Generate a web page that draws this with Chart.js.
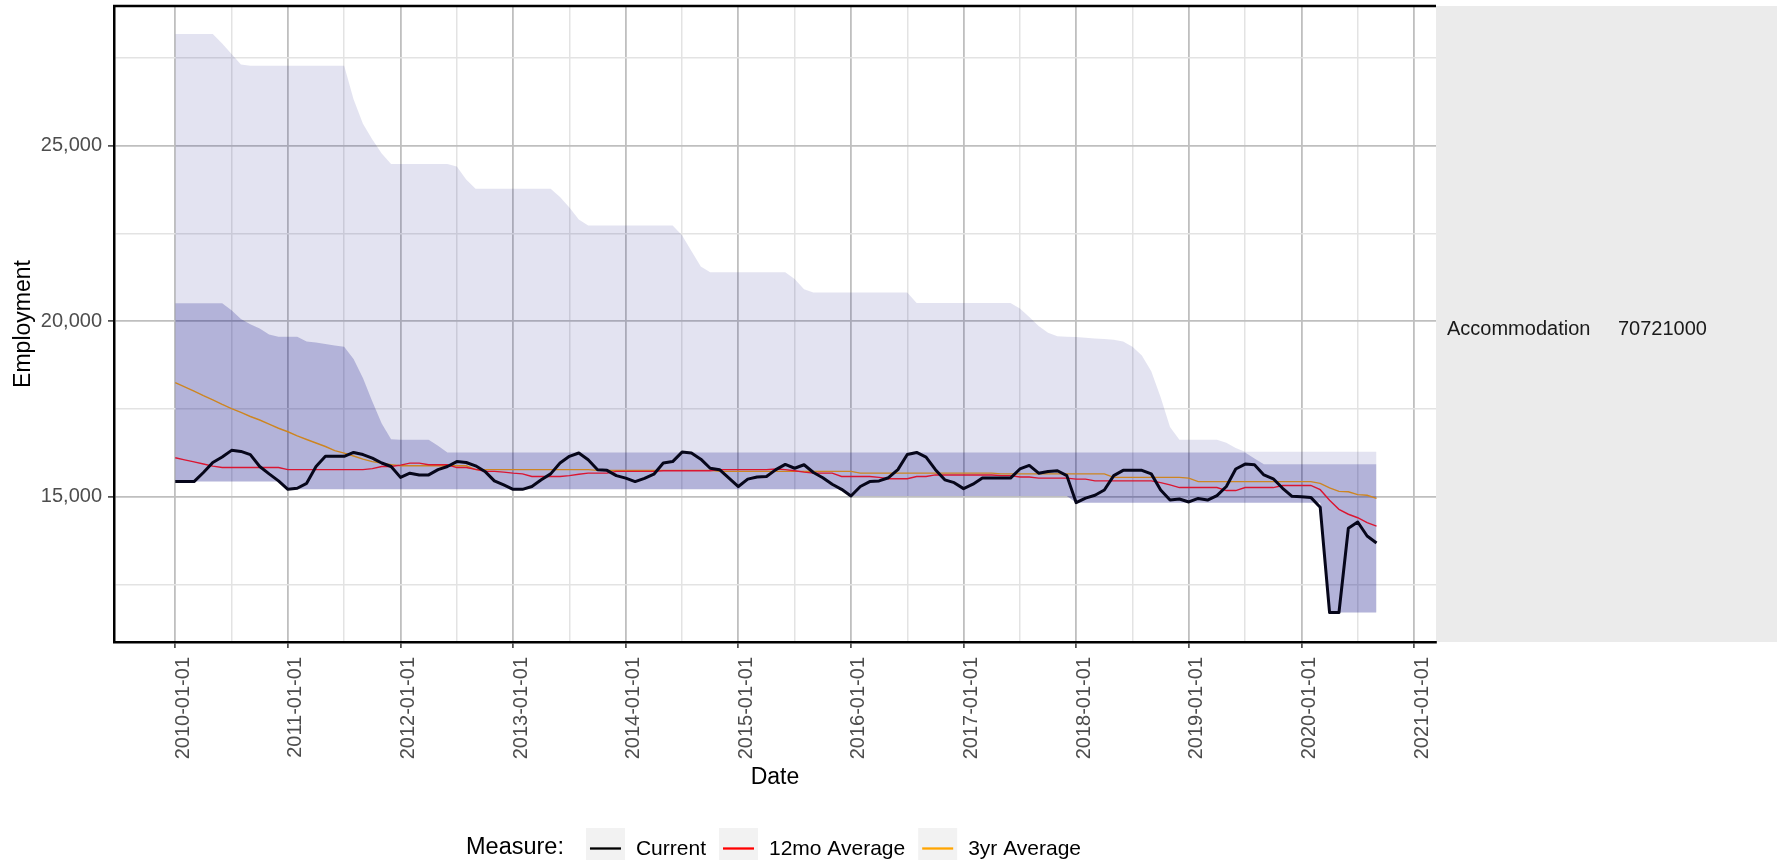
<!DOCTYPE html>
<html>
<head>
<meta charset="utf-8">
<script src="https://cdn.jsdelivr.net/npm/chart.js@4/dist/chart.umd.min.js"></script>
<style>
  html, body { margin: 0; padding: 0; background: #fff; }
  #wrap { width: 1777px; height: 860px; }
</style>
</head>
<body>
<div id="wrap"><canvas id="chart" width="1777" height="860"></canvas></div>
<script>
// monthly series, Jan 2010 .. Sep 2020 (one row per year)
const firstYear = 2010;

const current = [
  15430, 15430, 15430, 15690, 15975, 16130, 16320, 16290, 16200, 15860, 15650, 15450,
  15210, 15240, 15380, 15860, 16150, 16150, 16150, 16260, 16200, 16100, 15960, 15860,
  15550, 15670, 15620, 15620, 15770, 15860, 16000, 15975, 15880, 15720, 15450, 15335,
  15210, 15210, 15290, 15480, 15650, 15960, 16150, 16245, 16050, 15770, 15750, 15600,
  15530, 15430, 15520, 15640, 15960, 16000, 16270, 16245, 16070, 15810, 15770, 15530,
  15290, 15500, 15560, 15575, 15770, 15920, 15810, 15910, 15690, 15540, 15355, 15210,
  15020, 15290, 15430, 15450, 15540, 15770, 16200, 16260, 16130, 15770, 15480, 15400,
  15230, 15355, 15530, 15530, 15530, 15530, 15790, 15890, 15670, 15720, 15740, 15600,
  14830, 14960, 15040, 15190, 15600, 15750, 15750, 15750, 15650, 15190, 14905, 14935,
  14850, 14950, 14905, 15030, 15290, 15790, 15930, 15910, 15620, 15510, 15240, 15010,
  15000, 14980, 14700, 11700, 11700, 14100, 14280, 13880, 13680
];

const avg12mo = [
  16110, 16050, 15990, 15930, 15870, 15830, 15830, 15830, 15830, 15830, 15830, 15830,
  15770, 15770, 15770, 15770, 15770, 15770, 15770, 15770, 15770, 15800, 15860, 15860,
  15900, 15955, 15955, 15910, 15910, 15910, 15830, 15830, 15780, 15720, 15720, 15700,
  15670, 15650, 15575, 15575, 15575, 15575, 15600, 15640, 15670, 15670, 15670, 15720,
  15720, 15720, 15720, 15720, 15740, 15740, 15740, 15740, 15740, 15740, 15770, 15770,
  15770, 15770, 15770, 15770, 15790, 15770, 15740, 15700, 15670, 15670, 15670, 15575,
  15575, 15575, 15575, 15550, 15510, 15510, 15510, 15575, 15575, 15620, 15620, 15620,
  15620, 15620, 15620, 15620, 15600, 15600, 15560, 15560, 15530, 15530, 15530, 15530,
  15500, 15500, 15450, 15450, 15450, 15450, 15450, 15450, 15450, 15400, 15335, 15260,
  15260, 15260, 15260, 15260, 15175, 15175, 15260, 15260, 15260, 15260, 15320, 15320,
  15320, 15320, 15200, 14900, 14640, 14500, 14400, 14260, 14160
];

const avg3yr = [
  18250, 18130, 18010, 17880, 17760, 17630, 17510, 17400, 17285, 17185, 17065, 16950,
  16850, 16730, 16630, 16530, 16430, 16310, 16240, 16160, 16070, 16000, 15955, 15915,
  15880, 15880, 15880, 15880, 15880, 15880, 15880, 15880, 15770, 15770, 15770, 15770,
  15770, 15770, 15770, 15770, 15770, 15770, 15770, 15770, 15770, 15750, 15750, 15750,
  15750, 15750, 15750, 15750, 15750, 15750, 15750, 15750, 15750, 15750, 15720, 15720,
  15720, 15720, 15720, 15720, 15720, 15720, 15720, 15720, 15720, 15720, 15720, 15720,
  15720, 15670, 15670, 15670, 15670, 15670, 15670, 15670, 15670, 15670, 15670, 15670,
  15670, 15670, 15670, 15670, 15650, 15650, 15650, 15650, 15650, 15650, 15650, 15650,
  15650, 15650, 15650, 15650, 15550, 15550, 15550, 15550, 15550, 15550, 15550, 15550,
  15530, 15430, 15430, 15430, 15430, 15430, 15430, 15430, 15430, 15430, 15430, 15430,
  15430, 15430, 15380, 15250, 15150, 15140, 15060, 15040, 14950
];

// shaded ranges: long-window high, 3yr-window high, shared low
const rangeHigh = [
  28180, 28180, 28180, 28180, 28180, 27910, 27610, 27310, 27280, 27280, 27280, 27280,
  27280, 27280, 27280, 27280, 27280, 27280, 27280, 26320, 25625, 25180, 24780, 24475,
  24475, 24475, 24475, 24475, 24475, 24475, 24405, 24035, 23770, 23770, 23770, 23770,
  23770, 23770, 23770, 23770, 23770, 23540, 23240, 22895, 22725, 22725, 22725, 22725,
  22725, 22725, 22725, 22725, 22725, 22725, 22450, 22000, 21555, 21395, 21395, 21395,
  21395, 21395, 21395, 21395, 21395, 21395, 21205, 20910, 20820, 20820, 20820, 20820,
  20820, 20820, 20820, 20820, 20820, 20820, 20820, 20520, 20520, 20520, 20520, 20520,
  20520, 20520, 20520, 20520, 20520, 20520, 20365, 20120, 19865, 19670, 19570, 19560,
  19550, 19530, 19510, 19490, 19470, 19420, 19270, 19020, 18575, 17830, 16985, 16620,
  16620, 16620, 16620, 16620, 16540, 16390, 16280, 16280, 16280, 16280, 16280, 16280,
  16280, 16280, 16280, 16280, 16280, 16280, 16280, 16280, 16280
];

const rangeMid = [
  20510, 20510, 20510, 20510, 20510, 20510, 20310, 20065, 19915, 19795, 19620, 19560,
  19560, 19560, 19420, 19390, 19350, 19310, 19270, 18925, 18380, 17710, 17085, 16640,
  16620, 16620, 16620, 16620, 16450, 16260, 16260, 16260, 16260, 16260, 16260, 16260,
  16260, 16260, 16260, 16260, 16260, 16260, 16260, 16260, 16260, 16260, 16260, 16260,
  16260, 16260, 16260, 16260, 16260, 16260, 16260, 16260, 16260, 16260, 16260, 16260,
  16260, 16260, 16260, 16260, 16260, 16260, 16260, 16260, 16260, 16260, 16260, 16260,
  16260, 16260, 16260, 16260, 16260, 16260, 16260, 16260, 16260, 16260, 16260, 16260,
  16260, 16260, 16260, 16260, 16260, 16260, 16260, 16260, 16260, 16260, 16260, 16260,
  16260, 16260, 16260, 16260, 16260, 16260, 16260, 16260, 16260, 16260, 16260, 16260,
  16260, 16260, 16260, 16260, 16260, 16260, 16260, 16090, 15925, 15925, 15925, 15925,
  15925, 15925, 15925, 15925, 15925, 15925, 15925, 15925, 15925
];

const rangeLow = [
  15430, 15430, 15430, 15430, 15430, 15430, 15430, 15430, 15430, 15430, 15430, 15430,
  15210, 15210, 15210, 15210, 15210, 15210, 15210, 15210, 15210, 15210, 15210, 15210,
  15210, 15210, 15210, 15210, 15210, 15210, 15210, 15210, 15210, 15210, 15210, 15210,
  15210, 15210, 15210, 15210, 15210, 15210, 15210, 15210, 15210, 15210, 15210, 15210,
  15210, 15210, 15210, 15210, 15210, 15210, 15210, 15210, 15210, 15210, 15210, 15210,
  15210, 15210, 15210, 15210, 15210, 15210, 15210, 15210, 15210, 15210, 15210, 15210,
  15020, 15020, 15020, 15020, 15020, 15020, 15020, 15020, 15020, 15020, 15020, 15020,
  15020, 15020, 15020, 15020, 15020, 15020, 15020, 15020, 15020, 15020, 15020, 15020,
  14830, 14830, 14830, 14830, 14830, 14830, 14830, 14830, 14830, 14830, 14830, 14830,
  14830, 14830, 14830, 14830, 14830, 14830, 14830, 14830, 14830, 14830, 14830, 14830,
  14830, 14830, 14830, 11700, 11700, 11700, 11700, 11700, 11700
];

const xTickYears = [2010, 2011, 2012, 2013, 2014, 2015, 2016, 2017, 2018, 2019, 2020, 2021];
const yTickValues = [15000, 20000, 25000];
const yMinorValues = [12500, 17500, 22500, 27500];
const seriesNames = ['Current', '12mo Average', '3yr Average'];
const keyColors = ['#000000', '#FF0000', '#FFA500'];
const stripLabel = ['Accommodation', '70721000'];
const legendTitle = 'Measure:';

const fontFamily = "'Liberation Sans', Arial, Helvetica, sans-serif";
Chart.defaults.font.family = fontFamily;

// month positions as decimal years
const months = current.map((_, i) => firstYear + i / 12);
const xy = vals => vals.map((v, i) => ({x: months[i], y: v}));

// grid positions: years plus half years, 2500 steps on y
const xGridValues = xTickYears.flatMap(y => [y, y + 0.5]).filter(v => v <= 2021);
const yGridValues = yTickValues.concat(yMinorValues).sort((a, b) => a - b);

const majorGrid = '#BFBFBF';
const minorGrid = '#E3E3E3';

const panelPlugin = {
  id: 'panel',
  beforeDraw(chart) {
    const {ctx, chartArea: a} = chart;
    ctx.save();
    ctx.fillStyle = '#EBEBEB';
    ctx.fillRect(a.right, a.top, chart.width - a.right, a.bottom - a.top);
    ctx.restore();
  },
  afterDraw(chart) {
    const {ctx, chartArea: a} = chart;
    ctx.save();
    // top border of the panel
    ctx.strokeStyle = '#000';
    ctx.lineWidth = 2.5;
    ctx.beginPath();
    ctx.moveTo(a.left - 1, a.top);
    ctx.lineTo(a.right, a.top);
    ctx.stroke();

    // facet strip text
    const midY = (a.top + a.bottom) / 2;
    ctx.fillStyle = '#1A1A1A';
    ctx.font = '20px ' + fontFamily;
    ctx.textBaseline = 'alphabetic';
    ctx.fillText(stripLabel[0], a.right + 11, midY + 11);
    ctx.fillText(stripLabel[1], a.right + 182, midY + 11);

    // legend at the bottom
    let x = 466;
    ctx.fillStyle = '#000';
    ctx.font = '23.5px ' + fontFamily;
    ctx.fillText(legendTitle, x, 853.5);
    x += ctx.measureText(legendTitle).width + 22;
    ctx.font = '21px ' + fontFamily;
    seriesNames.forEach((name, i) => {
      ctx.fillStyle = '#F2F2F2';
      ctx.fillRect(x, 828, 39, 39);
      ctx.strokeStyle = keyColors[i];
      ctx.lineWidth = 2.3;
      ctx.beginPath();
      ctx.moveTo(x + 4, 848.5);
      ctx.lineTo(x + 35, 848.5);
      ctx.stroke();
      ctx.fillStyle = '#000';
      ctx.fillText(name, x + 50, 855);
      x += 50 + ctx.measureText(name).width + 13;
    });
    ctx.restore();
  }
};

const isMajorX = v => xTickYears.includes(v);
const isMajorY = v => yTickValues.includes(v);

const ctx = document.getElementById('chart').getContext('2d');
new Chart(ctx, {
  type: 'line',
  data: {
    datasets: [
      {label: seriesNames[0], data: xy(current), borderColor: '#06061a', borderWidth: 3,
       pointRadius: 0, fill: false, borderJoinStyle: 'round'},
      {label: seriesNames[1], data: xy(avg12mo), borderColor: '#DA1632', borderWidth: 1.4,
       pointRadius: 0, fill: false},
      {label: seriesNames[2], data: xy(avg3yr), borderColor: '#CD8521', borderWidth: 1.4,
       pointRadius: 0, fill: false},
      {label: 'low', data: xy(rangeLow), borderWidth: 0, borderColor: 'rgba(0,0,0,0)',
       pointRadius: 0, fill: false},
      {label: 'mid', data: xy(rangeMid), borderWidth: 0, borderColor: 'rgba(0,0,0,0)',
       pointRadius: 0, fill: 3, backgroundColor: 'rgba(0,0,128,0.21)'},
      {label: 'high', data: xy(rangeHigh), borderWidth: 0, borderColor: 'rgba(0,0,0,0)',
       pointRadius: 0, fill: 3, backgroundColor: 'rgba(0,0,128,0.11)'}
    ]
  },
  options: {
    responsive: false,
    animation: false,
    events: [],
    layout: {padding: {top: 6, right: 341, bottom: 65, left: 0}},
    plugins: {legend: {display: false}, tooltip: {enabled: false}},
    scales: {
      x: {
        type: 'linear',
        min: 2009.456,
        max: 2021.195,
        afterBuildTicks: s => { s.ticks = xGridValues.map(v => ({value: v})); },
        afterFit: s => { s.height = 153; s.paddingLeft = 0; s.paddingRight = 0; },
        border: {color: '#000', width: 2.5},
        grid: {
          color: c => isMajorX(c.tick.value) ? majorGrid : minorGrid,
          lineWidth: c => isMajorX(c.tick.value) ? 1.8 : 1.5,
          drawTicks: true,
          tickLength: 6,
          tickWidth: 1.5,
          tickColor: c => isMajorX(c.tick.value) ? '#333333' : 'rgba(0,0,0,0)'
        },
        ticks: {
          autoSkip: false,
          minRotation: 90,
          maxRotation: 90,
          labelOffset: 8,
          padding: 9,
          font: {size: 20},
          color: '#4D4D4D',
          callback: v => isMajorX(v) ? v + '-01-01' : ''
        },
        title: {display: true, text: 'Date', font: {size: 23}, color: '#000',
                padding: {top: 0, bottom: 4}}
      },
      y: {
        min: 10860,
        max: 28980,
        afterBuildTicks: s => { s.ticks = yGridValues.map(v => ({value: v})); },
        afterFit: s => { s.width = 114; s.paddingTop = 0; s.paddingBottom = 0; },
        border: {color: '#000', width: 2.5},
        grid: {
          color: c => isMajorY(c.tick.value) ? majorGrid : minorGrid,
          lineWidth: c => isMajorY(c.tick.value) ? 1.8 : 1.5,
          drawTicks: true,
          tickLength: 6,
          tickWidth: 1.5,
          tickColor: c => isMajorY(c.tick.value) ? '#333333' : 'rgba(0,0,0,0)'
        },
        ticks: {
          autoSkip: false,
          padding: 6,
          font: {size: 20},
          color: '#4D4D4D',
          callback: v => isMajorY(v) ? v.toLocaleString('en-US') : ''
        },
        title: {display: true, text: 'Employment', font: {size: 23}, color: '#000',
                padding: {top: 10, bottom: 0}}
      }
    }
  },
  plugins: [panelPlugin]
});
</script>
</body>
</html>
